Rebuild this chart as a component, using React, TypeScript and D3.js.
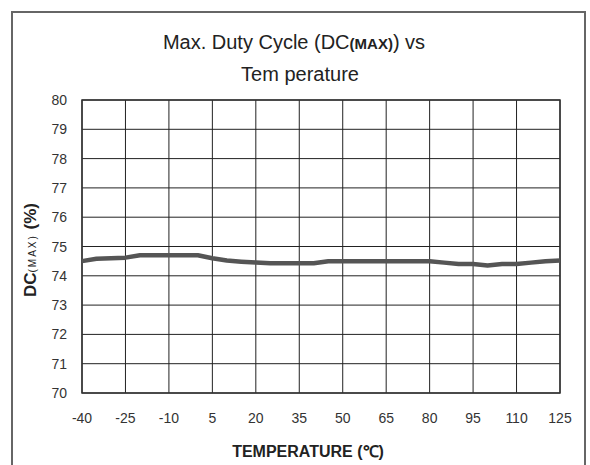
import React from "react";
import * as d3 from "d3";

const temps = [-40, -35, -30, -25, -20, -15, -10, -5, 0, 5, 10, 15, 20, 25, 30, 35, 40, 45, 50, 55, 60, 65, 70, 75, 80, 85, 90, 95, 100, 105, 110, 115, 120, 125];
const dcMax = [74.5, 74.58, 74.6, 74.62, 74.7, 74.7, 74.7, 74.7, 74.7, 74.6, 74.52, 74.48, 74.45, 74.43, 74.43, 74.43, 74.43, 74.5, 74.5, 74.5, 74.5, 74.5, 74.5, 74.5, 74.5, 74.45, 74.4, 74.4, 74.35, 74.4, 74.4, 74.45, 74.5, 74.52];
const xTicks = [-40, -25, -10, 5, 20, 35, 50, 65, 80, 95, 110, 125];
const yTicks = [70, 71, 72, 73, 74, 75, 76, 77, 78, 79, 80];

export default function App() {
  const W = 590, H = 465;
  const left = 82, right = 560, top = 100, bottom = 393;
  const x = d3.scaleLinear().domain([-40, 125]).range([left, right]);
  const y = d3.scaleLinear().domain([70, 80]).range([bottom, top]);
  const line = d3.line<number>().x((_, i) => x(temps[i])).y((d) => y(d)).curve(d3.curveLinear);
  const font = "'Liberation Sans', Arial, sans-serif";
  return (
    <svg width={W} height={H} style={{ position: "absolute", left: 0, top: 0, background: "#fff" }} fontFamily={font}>
      <rect x={0} y={0} width={W} height={H} fill="#fff" />
      <rect x={12} y={12} width={573} height={470} fill="none" stroke="#666" strokeWidth={2} />
      <text x={294} y={49} textAnchor="middle" fontSize={20} fill="#222">
        Max. Duty Cycle (DC<tspan fontSize={15} fontWeight="bold">(MAX)</tspan>) vs
      </text>
      <text x={300} y={81} textAnchor="middle" fontSize={20} fill="#222">Tem perature</text>
      {yTicks.map((t) => (
        <line key={"gy" + t} x1={left} x2={right} y1={y(t)} y2={y(t)} stroke="#222" strokeWidth={1} />
      ))}
      {xTicks.map((t) => (
        <line key={"gx" + t} x1={x(t)} x2={x(t)} y1={top} y2={bottom} stroke="#222" strokeWidth={1} />
      ))}
      <rect x={left} y={top} width={right - left} height={bottom - top} fill="none" stroke="#333" strokeWidth={1.5} />
      <path d={line(dcMax) || ""} fill="none" stroke="#555" strokeWidth={4.5} strokeLinejoin="round" />
      {yTicks.map((t) => (
        <text key={"ty" + t} x={67} y={y(t) + 5} textAnchor="end" fontSize={14} fill="#333">{t}</text>
      ))}
      {xTicks.map((t) => (
        <text key={"tx" + t} x={x(t)} y={423} textAnchor="middle" fontSize={14} fill="#333">{t}</text>
      ))}
      <text x={308} y={457} textAnchor="middle" fontSize={16} fontWeight="bold" fill="#222">TEMPERATURE (℃)</text>
      <text transform={`translate(36,${250}) rotate(-90)`} textAnchor="middle" fontSize={17} fontWeight="bold" fill="#222">
        DC<tspan fontSize={10} fontWeight="normal" letterSpacing={2}>(MAX)</tspan> (%)
      </text>
    </svg>
  );
}
